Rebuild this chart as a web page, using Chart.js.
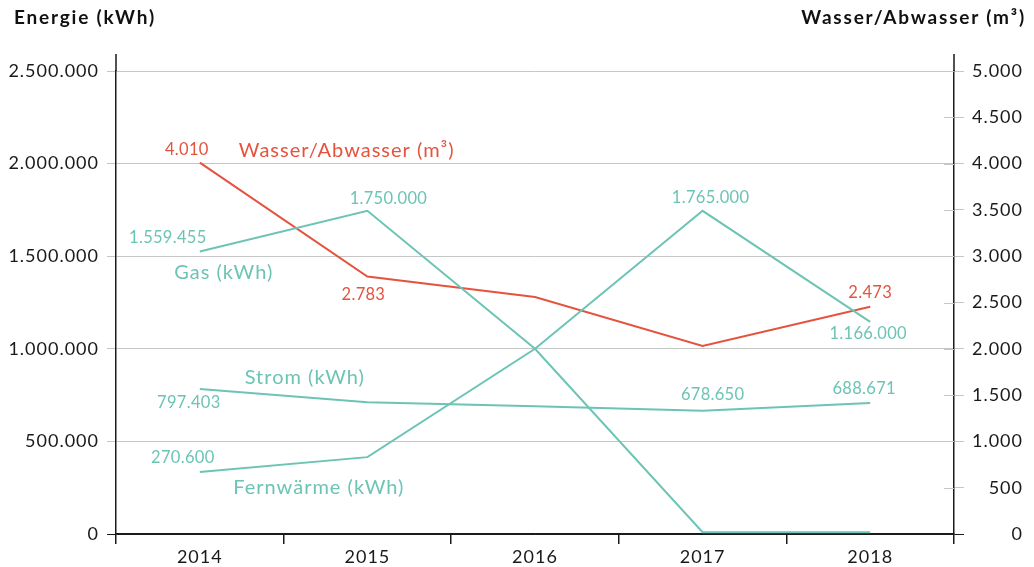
<!DOCTYPE html>
<html>
<head>
<meta charset="utf-8">
<script src="https://cdn.jsdelivr.net/npm/chart.js@4/dist/chart.umd.min.js"></script>
<style>
  html, body { margin: 0; padding: 0; background: #ffffff; }
  #wrap { position: relative; width: 1034px; height: 567px; }
  .title { position: absolute; top: 5px; font-family: Lato, "Open Sans", sans-serif; font-weight: 700; font-size: 19px; letter-spacing: 1.8px; color: #111; white-space: nowrap; }
  #tl { left: 14px; }
  #tr { right: 8px; }
</style>
</head>
<body>
<div id="wrap">
  <canvas id="c" width="1034" height="567"></canvas>
  <div class="title" id="tl">Energie (kWh)</div>
  <div class="title" id="tr">Wasser/Abwasser (m³)</div>
</div>
<script>
// ---- data ----
const years = ['2014', '2015', '2016', '2017', '2018'];
const gasKWh = [1525000, 1745000, 1000000, 10000, 10000];
const stromKWh = [783000, 712000, 690000, 665000, 707000];
const fernwaermeKWh = [335000, 415000, 1000000, 1745000, 1145000];
const wasserM3 = [4010, 2780, 2560, 2030, 2455];

const gasLabels = ['1.559.455', '1.750.000', null, null, null];
const stromLabels = ['797.403', null, null, '678.650', '688.671'];
const fernwaermeLabels = ['270.600', null, null, '1.765.000', '1.166.000'];
const wasserLabels = ['4.010', '2.783', null, null, '2.473'];

const seriesNames = ['Gas (kWh)', 'Strom (kWh)', 'Fernwärme (kWh)', 'Wasser/Abwasser (m³)'];

const energyMax = 2500000, energyStep = 500000;
const waterMax = 5000, waterStep = 500;

// ---- styles ----
const TEAL = '#6cc4b5';
const RED = '#e5533e';
const GRID = '#c6c6c6';
const AXIS = '#1a1a1a';
const FONT = 'Lato, "Open Sans", sans-serif';

function fmtDE(v) {
  return String(Math.round(v)).replace(/\B(?=(\d{3})+(?!\d))/g, '.');
}

// label offsets (pixels) relative to each data point
const valueLabelOffsets = [
  [[-32, -14], [21, -12], null, null, null],          // Gas
  [[-11, 14], null, null, [10, -16], [-6, -14]],       // Strom
  [[-17, -14], null, null, [8, -13], [-2, 12]],        // Fernwärme
  [[-13, -13], [-4, 18], null, null, [0, -14]]         // Wasser
];
const nameLabelPlacement = [
  { idx: 0, dx: 24, dy: 21, align: 'center' },
  { idx: 0, dx: 105, dy: -11, align: 'center' },
  { idx: 0, dx: 119, dy: 16, align: 'center' },
  { idx: 0, dx: 39, dy: -12, align: 'left' }
];
const allLabels = [gasLabels, stromLabels, fernwaermeLabels, wasserLabels];

const spacingPlugin = {
  id: 'spacing',
  beforeDraw(chart) { chart.ctx.letterSpacing = '1px'; },
  afterDraw(chart) { chart.ctx.letterSpacing = '0px'; }
};

const labelPlugin = {
  id: 'labels',
  afterDatasetsDraw(chart) {
    const ctx = chart.ctx;
    ctx.save();
    ctx.textBaseline = 'middle';
    chart.data.datasets.forEach((ds, di) => {
      const meta = chart.getDatasetMeta(di);
      const color = ds.borderColor;
      ctx.fillStyle = color;
      // value labels
      ctx.letterSpacing = '0.3px';
      ctx.font = '16.5px ' + FONT;
      ctx.textAlign = 'center';
      allLabels[di].forEach((txt, i) => {
        const off = valueLabelOffsets[di][i];
        if (!txt || !off) return;
        const pt = meta.data[i];
        ctx.fillText(txt, pt.x + off[0], pt.y + off[1]);
      });
      // series name
      const p = nameLabelPlacement[di];
      const pt = meta.data[p.idx];
      ctx.letterSpacing = '1px';
      ctx.font = '20px ' + FONT;
      ctx.textAlign = p.align;
      ctx.fillText(seriesNames[di], pt.x + p.dx, pt.y + p.dy);
    });
    ctx.restore();
  }
};

const axisExtPlugin = {
  id: 'axisExt',
  afterDraw(chart) {
    const ctx = chart.ctx;
    const a = chart.chartArea;
    ctx.save();
    ctx.strokeStyle = AXIS;
    ctx.lineWidth = 1.5;
    ctx.beginPath();
    ctx.moveTo(Math.round(a.left), a.top - 17);
    ctx.lineTo(Math.round(a.left), a.top);
    ctx.moveTo(Math.round(a.right), a.top - 17);
    ctx.lineTo(Math.round(a.right), a.top);
    ctx.stroke();
    // inner part of right axis tick marks
    const y2 = chart.scales.y2;
    ctx.strokeStyle = GRID;
    ctx.lineWidth = 1;
    y2.ticks.forEach(t => {
      if (t.value === 0) return;
      const y = Math.round(y2.getPixelForValue(t.value)) + 0.5;
      ctx.beginPath();
      ctx.moveTo(a.right - 10, y);
      ctx.lineTo(a.right, y);
      ctx.stroke();
    });
    ctx.restore();
  }
};

const mk = (label, data, color, axis) => ({
  label, data, borderColor: color, backgroundColor: color, yAxisID: axis,
  borderWidth: 2, pointRadius: 0, tension: 0, fill: false
});

new Chart(document.getElementById('c'), {
  type: 'line',
  data: {
    labels: years,
    datasets: [
      mk(seriesNames[0], gasKWh, TEAL, 'y'),
      mk(seriesNames[1], stromKWh, TEAL, 'y'),
      mk(seriesNames[2], fernwaermeKWh, TEAL, 'y'),
      mk(seriesNames[3], wasserM3, RED, 'y2')
    ]
  },
  options: {
    responsive: false,
    animation: false,
    layout: { padding: { top: 71, right: 11, left: 0, bottom: 0 } },
    plugins: { legend: { display: false }, tooltip: { enabled: false } },
    scales: {
      x: {
        offset: true,
        grid: { offset: true, drawOnChartArea: false, tickLength: 10, color: AXIS, lineWidth: 1.5 },
        border: { color: AXIS, width: 1.5 },
        ticks: { font: { family: FONT, size: 18 }, color: '#1a1a1a', padding: 2 },
        afterFit(s) { s.height = 33; }
      },
      y: {
        position: 'left',
        min: 0, max: energyMax,
        grid: {
          tickLength: 9,
          color: (c) => (c.tick && c.tick.value === 0 ? AXIS : GRID),
          lineWidth: 1
        },
        border: { color: AXIS, width: 1.5 },
        ticks: {
          stepSize: energyStep,
          font: { family: FONT, size: 18 }, color: '#1a1a1a', padding: 8,
          callback: (v) => fmtDE(v)
        },
        afterFit(s) { s.width = 116; }
      },
      y2: {
        position: 'right',
        min: 0, max: waterMax,
        grid: {
          drawOnChartArea: false, tickLength: 10,
          color: (c) => (c.tick && c.tick.value === 0 ? AXIS : GRID),
          lineWidth: 1
        },
        border: { color: AXIS, width: 1.5 },
        ticks: {
          stepSize: waterStep, crossAlign: 'far',
          font: { family: FONT, size: 18 }, color: '#1a1a1a', padding: 8,
          callback: (v) => fmtDE(v)
        },
        afterFit(s) { s.width = 69; }
      }
    }
  },
  plugins: [spacingPlugin, labelPlugin, axisExtPlugin]
});
</script>
</body>
</html>
